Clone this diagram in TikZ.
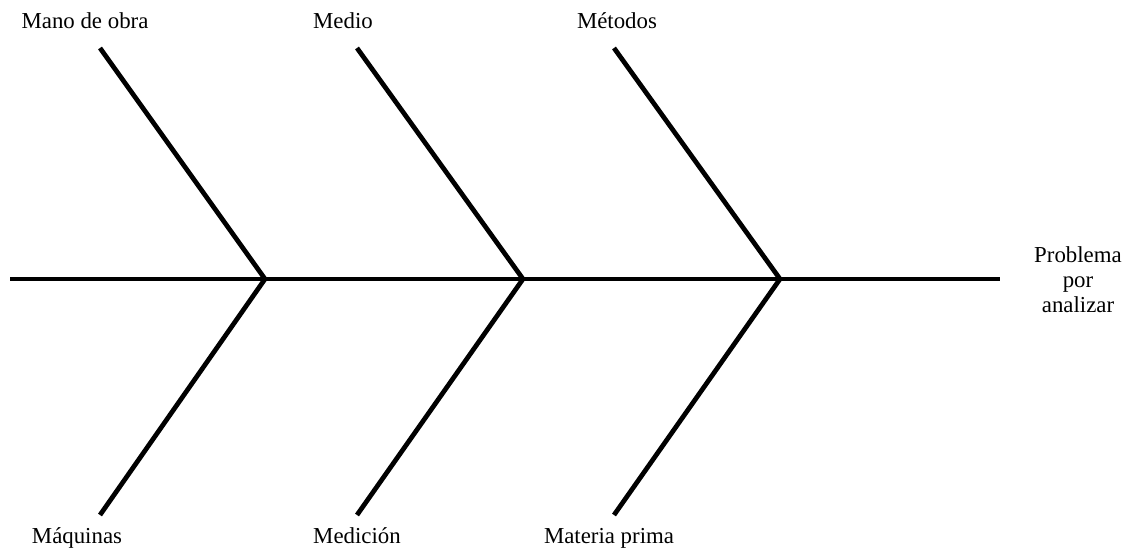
\documentclass[tikz,border=0pt]{standalone}
\usepackage{fontspec}
\setmainfont{Liberation Serif}
\usetikzlibrary{positioning}

\begin{document}
\begin{tikzpicture}[x=0.02cm, y=-0.02cm,
    bone/.style={line width=2.7pt, black},
    cause/.style={font=\fontsize{13}{15}\selectfont, inner sep=0pt, anchor=base},
    effect/.style={font=\fontsize{13}{14.2}\selectfont, align=center, inner sep=0pt},
  ]
    \useasboundingbox (0,0) rectangle (1127,548);

    % Espina
    \coordinate (tail) at (10,279);
    \coordinate (j1) at (265,279);
    \coordinate (j2) at (523,279);
    \coordinate (j3) at (780,279);
    \coordinate (head) at (1000,279);
    \draw[bone] (tail) -- (j1) -- (j2) -- (j3) -- (head);

    % Espinas superiores
    \coordinate (u1) at (100,48);
    \coordinate (u2) at (357,48);
    \coordinate (u3) at (614,48);
    \draw[bone] (u1) -- (j1);
    \draw[bone] (u2) -- (j2);
    \draw[bone] (u3) -- (j3);

    % Espinas inferiores
    \coordinate (d1) at (100,515);
    \coordinate (d2) at (357,515);
    \coordinate (d3) at (614,515);
    \draw[bone] (j1) -- (d1);
    \draw[bone] (j2) -- (d2);
    \draw[bone] (j3) -- (d3);

    % Causas
    \node[cause] (mano) at (85,28) {Mano de obra};
    \node[cause] (medio) at (343,28) {Medio};
    \node[cause] (metodos) at (617,28) {Métodos};
    \node[cause] (maquinas) at (77,543) {Máquinas};
    \node[cause] (medicion) at (357,543) {Medición};
    \node[cause] (materia) at (609,543) {Materia prima};

    % Efecto
    \node[effect] (problema) at (1078,280) {Problema\\por\\analizar};
\end{tikzpicture}
\end{document}
